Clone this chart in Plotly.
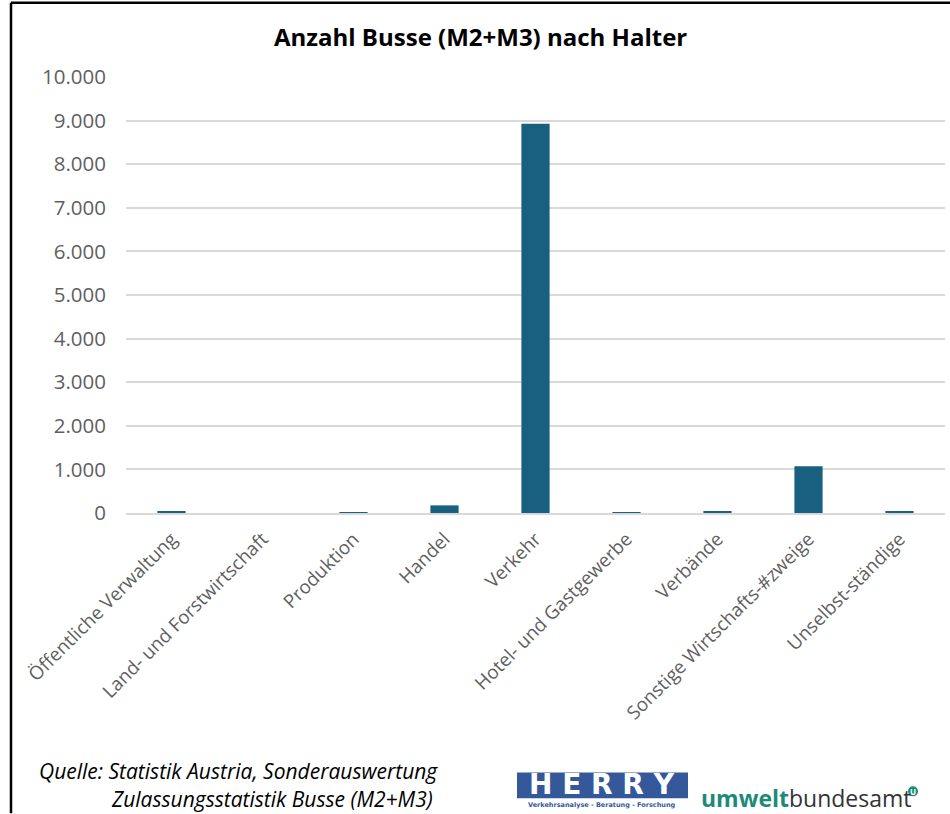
import plotly.graph_objects as go

categories = ["Öffentliche Verwaltung", "Land- und Forstwirtschaft", "Produktion", "Handel",
              "Verkehr", "Hotel- und Gastgewerbe", "Verbände", "Sonstige Wirtschafts-#zweige",
              "Unselbst-ständige"]
values = [40, 0, 3, 175, 8930, 5, 30, 1075, 38]
y_ticks = [0, 1000, 2000, 3000, 4000, 5000, 6000, 7000, 8000, 9000, 10000]

title = "Anzahl Busse (M2+M3) nach Halter"
source1 = "Quelle: Statistik Austria, Sonderauswertung"
source2 = "Zulassungsstatistik Busse (M2+M3)"

W, H = 950, 814
L, R, T, B = 126, 945, 77.3, 513.5

def px(x):
    return (x - L) / (R - L)

def py(y):
    return (B - y) / (B - T)

FONT = "Open Sans"
BAR = "#185f80"

fig = go.Figure(go.Bar(x=categories, y=values, marker=dict(color=BAR, line=dict(width=0)),
                       width=0.31))

fig.update_layout(
    width=W, height=H,
    margin=dict(l=L, r=W - R, t=T, b=H - B, pad=0),
    paper_bgcolor="white", plot_bgcolor="white",
    separators=",.",
    showlegend=False,
    font=dict(family=FONT, color="#595959"),
    bargap=0.69,
)
fig.update_yaxes(range=[0, 10000], tickvals=y_ticks, tickformat=",d",
                 showgrid=True, gridcolor="#d9d9d9", gridwidth=1.5,
                 zeroline=False, showline=False, ticks="",
                 tickfont=dict(size=20.5, family=FONT, color="#5f5f5f"),
                 ticklabelstandoff=19)
fig.update_xaxes(tickangle=-45, showline=True, linecolor="#d9d9d9", linewidth=1.5,
                 ticks="", showgrid=False,
                 tickfont=dict(size=18.8, family=FONT, color="#5f5f5f"),
                 ticklabelstandoff=6)

ann = []
ann.append(dict(text="<b>" + title + "</b>", x=px(480), y=py(37), xref="paper", yref="paper",
                showarrow=False, xanchor="center", yanchor="middle",
                font=dict(size=24, family=FONT, color="black")))
ann.append(dict(text="<i>" + source1 + "</i>", x=px(37), y=py(772), xref="paper", yref="paper",
                showarrow=False, xanchor="left", yanchor="middle",
                font=dict(size=21, family=FONT, color="black")))
ann.append(dict(text="<i>" + source2 + "</i>", x=px(109), y=py(800), xref="paper", yref="paper",
                showarrow=False, xanchor="left", yanchor="middle",
                font=dict(size=21, family=FONT, color="black")))
# HERRY logo
ann.append(dict(text="<b>H E R R Y</b>", x=px(602), y=py(785), xref="paper", yref="paper",
                showarrow=False, xanchor="center", yanchor="middle",
                font=dict(size=28, family="DejaVu Sans", color="white")))
ann.append(dict(text="<b>Verkehrsanalyse - Beratung - Forschung</b>", x=px(602), y=py(806),
                xref="paper", yref="paper", showarrow=False, xanchor="center", yanchor="middle",
                font=dict(size=6.5, family="DejaVu Sans", color="#34589a")))
# umweltbundesamt logo
ann.append(dict(text="<b><span style='color:#1d8a78'>umwelt</span></b><span style='color:#333333'>bundesamt</span>",
                x=px(699), y=py(799), xref="paper", yref="paper",
                showarrow=False, xanchor="left", yanchor="middle",
                font=dict(size=23, family=FONT)))
ann.append(dict(text="<b>U</b>", x=px(913), y=py(792), xref="paper", yref="paper",
                showarrow=False, xanchor="center", yanchor="middle",
                font=dict(size=8, family=FONT, color="white")))
fig.update_layout(annotations=ann)

shapes = []
# border (top and left)
shapes.append(dict(type="line", xref="paper", yref="paper", x0=px(11), x1=px(950), y0=py(3), y1=py(3),
                   line=dict(color="black", width=2.5)))
shapes.append(dict(type="line", xref="paper", yref="paper", x0=px(11), x1=px(11), y0=py(3), y1=py(814),
                   line=dict(color="black", width=2.5)))
# HERRY box
shapes.append(dict(type="rect", xref="paper", yref="paper", x0=px(517), x1=px(688), y0=py(773), y1=py(799),
                   fillcolor="#34589a", line=dict(width=0), layer="below"))
# umweltbundesamt circle
shapes.append(dict(type="circle", xref="paper", yref="paper", x0=px(908), x1=px(918), y0=py(787), y1=py(797),
                   fillcolor="#1d8a78", line=dict(width=0), layer="below"))
fig.update_layout(shapes=shapes)

fig.write_html("out.html", config={"displayModeBar": False},
               post_script="document.body.style.margin='0';document.body.style.overflow='hidden';")
